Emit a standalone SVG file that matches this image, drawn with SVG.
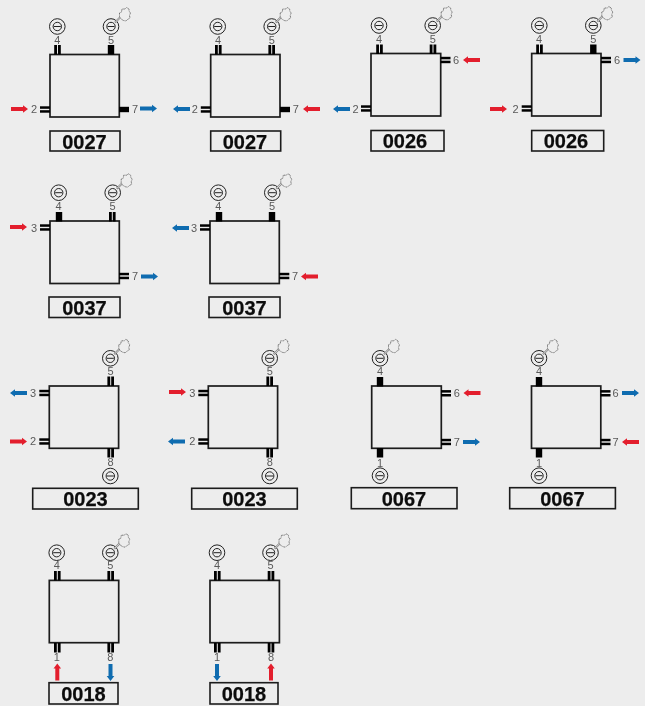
<svg xmlns="http://www.w3.org/2000/svg" width="645" height="706" viewBox="0 0 645 706">
<style>
.box{fill:none;stroke:#1c1c1c;stroke-width:1.7}
.lab{fill:none;stroke:#1c1c1c;stroke-width:1.6}
.t{font-family:"Liberation Sans",Arial,sans-serif;font-size:20px;font-weight:bold;fill:#0c0c0c;stroke:#0c0c0c;stroke-width:.25;text-anchor:middle;filter:url(#gray)}
.n{font-family:"Liberation Sans",Arial,sans-serif;font-size:11px;fill:#5a5a5a;text-anchor:middle;transform:translateY(-.5px);filter:url(#gray)}
.red{fill:#e31e2d}.blue{fill:#0f6cb0}
</style>
<defs>
<filter id="gray" x="-20%" y="-20%" width="140%" height="140%"><feOffset dx="0" dy="0"/></filter>
<g id="valve"><circle r="7.8" fill="none" stroke="#222" stroke-width="1"/><circle r="4.2" fill="none" stroke="#222" stroke-width="1"/><line x1="-3.500" x2="3.500" stroke="#222" stroke-width="1"/></g>
<g id="vk"><use href="#valve"/><line x1="4" y1="-4" x2="10.500" y2="-10.500" stroke="#8a8a8a" stroke-width="2"/><line x1="4.500" y1="-4.500" x2="10.500" y2="-10.500" stroke="#ededed" stroke-width=".7"/><path d="M8.500-13.500l2-1 .5-3 3 0 1.500-1.500 2.500 1.500 0 2 1.500 2-1 2.500 .5 2.500-2.500 1.500-1.500 1.500-2.500-.5-2.500-1.500-1.500-2.500z" fill="#ededed" stroke="#666" stroke-width=".9" stroke-dasharray="1 .5"/></g>
<g id="dv"><rect x="-3.300" y="0" width="2.800" height="9.500" fill="#000"/><rect x="0.500" y="0" width="2.800" height="9.500" fill="#000"/></g>
<g id="sv"><rect x="-3.200" y="0" width="6.400" height="9.500" fill="#000"/></g>
<g id="dh"><rect x="0" y="-3.200" width="10" height="2.500" fill="#000"/><rect x="0" y="0.700" width="10" height="2.500" fill="#000"/></g>
<g id="sh"><rect x="0" y="-2.700" width="10" height="5.400" fill="#000"/></g>
<path id="ar" d="M0-2H12V-3.800L17 0 12 3.800V2H0z"/>
</defs>
<rect width="645" height="706" fill="#ededed"/>
<g id="connectors">
<use href="#ar" class="red" x="11" y="109"/><use href="#ar" class="blue" x="140" y="108.500"/>
<use href="#ar" class="blue" transform="translate(190 109) rotate(180)"/><use href="#ar" class="red" transform="translate(320 109) rotate(180)"/>
<use href="#ar" class="blue" transform="translate(350 109) rotate(180)"/><use href="#ar" class="red" transform="translate(480 60) rotate(180)"/>
<use href="#ar" class="red" x="490" y="109"/><use href="#ar" class="blue" x="623.500" y="60"/>
<use href="#ar" class="red" x="10" y="227"/><use href="#ar" class="blue" x="141" y="276.500"/>
<use href="#ar" class="blue" transform="translate(189 228) rotate(180)"/><use href="#ar" class="red" transform="translate(318 276.500) rotate(180)"/>
<use href="#ar" class="blue" transform="translate(27 393) rotate(180)"/><use href="#ar" class="red" x="10" y="441.500"/>
<use href="#ar" class="red" x="169" y="392"/><use href="#ar" class="blue" transform="translate(185 441.500) rotate(180)"/>
<use href="#ar" class="red" transform="translate(480.500 393) rotate(180)"/><use href="#ar" class="blue" x="463" y="442"/>
<use href="#ar" class="blue" x="622" y="393"/><use href="#ar" class="red" transform="translate(639 442) rotate(180)"/>
<use href="#ar" class="red" transform="translate(57.300 680.500) rotate(-90)"/><use href="#ar" class="blue" transform="translate(110.500 664) rotate(90)"/>
<use href="#ar" class="blue" transform="translate(217 664) rotate(90)"/><use href="#ar" class="red" transform="translate(271 680.500) rotate(-90)"/>
</g>
<g id="n1"><rect class="box" x="50" y="54.500" width="69.300" height="62.500"/><use href="#dv" x="57.500" y="45"/><use href="#sv" x="111" y="45"/><use href="#dh" x="40" y="109.500"/><use href="#sh" x="119" y="109.500"/><use href="#valve" x="57.300" y="26.500"/><use href="#vk" x="111" y="26.500"/><text class="n" x="57.300" y="44">4</text><text class="n" x="111" y="44">5</text><text class="n" x="34" y="113">2</text><text class="n" x="135" y="113">7</text><rect class="lab" x="50" y="131" width="70" height="20"/><text class="t" x="84.500" y="148.500">0027</text></g>
<g id="n2"><rect class="box" x="210.700" y="54.500" width="69.300" height="62.500"/><use href="#dv" x="218.300" y="45"/><use href="#dv" x="271.700" y="45"/><use href="#dh" x="200.800" y="109.500"/><use href="#sh" x="280" y="109.500"/><use href="#valve" x="217.700" y="26.500"/><use href="#vk" x="271.700" y="26.500"/><text class="n" x="218" y="44">4</text><text class="n" x="271.700" y="44">5</text><text class="n" x="194.700" y="113">2</text><text class="n" x="295.700" y="113">7</text><rect class="lab" x="210.700" y="131" width="70" height="20"/><text class="t" x="245" y="148.500">0027</text></g>
<g id="n3"><rect class="box" x="371" y="53.500" width="69.700" height="62.500"/><use href="#dv" x="379.500" y="44.500"/><use href="#dv" x="433" y="44.500"/><use href="#dh" x="361" y="108.500"/><use href="#dh" x="440.500" y="60"/><use href="#valve" x="379" y="25.500"/><use href="#vk" x="432.700" y="25.500"/><text class="n" x="379" y="43.500">4</text><text class="n" x="432.700" y="43.500">5</text><text class="n" x="355.500" y="113">2</text><text class="n" x="456" y="64">6</text><rect class="lab" x="371" y="130.500" width="73" height="20.500"/><text class="t" x="405" y="148">0026</text></g>
<g id="n4"><rect class="box" x="531.700" y="53.500" width="69.300" height="62.500"/><use href="#dv" x="539.500" y="44.500"/><use href="#sv" x="593.300" y="44.500"/><use href="#dh" x="521.700" y="108.500"/><use href="#dh" x="601" y="60"/><use href="#valve" x="539.300" y="25.500"/><use href="#vk" x="593.300" y="25.500"/><text class="n" x="539" y="43.500">4</text><text class="n" x="593.300" y="43.500">5</text><text class="n" x="515.500" y="113">2</text><text class="n" x="617" y="64">6</text><rect class="lab" x="531.700" y="130.500" width="72" height="20.500"/><text class="t" x="566" y="148">0026</text></g>
<g id="n5"><rect class="box" x="50" y="221" width="69.300" height="62.500"/><use href="#sv" x="59" y="212"/><use href="#dv" x="112.300" y="212"/><use href="#dh" x="40" y="227.500"/><use href="#dh" x="119" y="276"/><use href="#valve" x="58.700" y="192.700"/><use href="#vk" x="112.700" y="192.700"/><text class="n" x="58.500" y="210.500">4</text><text class="n" x="112.500" y="210.500">5</text><text class="n" x="34" y="232">3</text><text class="n" x="135" y="280">7</text><rect class="lab" x="49" y="297" width="71" height="20.500"/><text class="t" x="84.500" y="315">0037</text></g>
<g id="n6"><rect class="box" x="210" y="221" width="69.300" height="62.500"/><use href="#sv" x="219" y="212"/><use href="#sv" x="272" y="212"/><use href="#dh" x="200" y="227.500"/><use href="#dh" x="279.300" y="276"/><use href="#valve" x="218.300" y="192.700"/><use href="#vk" x="272.300" y="192.700"/><text class="n" x="218.300" y="210.500">4</text><text class="n" x="272" y="210.500">5</text><text class="n" x="194" y="232">3</text><text class="n" x="295" y="280">7</text><rect class="lab" x="209" y="297" width="71" height="20.500"/><text class="t" x="244.500" y="315">0037</text></g>
<g id="n7"><rect class="box" x="49.300" y="386" width="69.300" height="62.300"/><use href="#dv" x="110.700" y="376.500"/><use href="#dv" x="110.700" y="448"/><use href="#dh" x="39.300" y="393"/><use href="#dh" x="39.300" y="441.500"/><use href="#vk" x="110.300" y="358.300"/><use href="#valve" x="110.300" y="476"/><text class="n" x="110.500" y="375.500">5</text><text class="n" x="110.500" y="466.500">8</text><text class="n" x="33" y="397">3</text><text class="n" x="33" y="445.500">2</text><rect class="lab" x="32.700" y="488.300" width="105.600" height="20.700"/><text class="t" x="85.500" y="505.500">0023</text></g>
<g id="n8"><rect class="box" x="208.300" y="386" width="69.300" height="62.300"/><use href="#dv" x="269.700" y="376.500"/><use href="#dv" x="269.700" y="448"/><use href="#dh" x="198.300" y="393"/><use href="#dh" x="198.300" y="441.500"/><use href="#vk" x="269.700" y="358.300"/><use href="#valve" x="269.700" y="476"/><text class="n" x="269.700" y="375.500">5</text><text class="n" x="269.700" y="466.500">8</text><text class="n" x="192.300" y="397">3</text><text class="n" x="192.300" y="445.500">2</text><rect class="lab" x="191.700" y="488.300" width="105.600" height="20.700"/><text class="t" x="244.500" y="505.500">0023</text></g>
<g id="n9"><rect class="box" x="371.700" y="386" width="69.600" height="62.300"/><use href="#sv" x="380" y="377"/><use href="#sv" x="380" y="448"/><use href="#dh" x="441" y="393.300"/><use href="#dh" x="441" y="442"/><use href="#vk" x="380" y="358.300"/><use href="#valve" x="380" y="475.700"/><text class="n" x="380" y="375.500">4</text><text class="n" x="380" y="467">1</text><text class="n" x="456.700" y="397.500">6</text><text class="n" x="456.700" y="446">7</text><rect class="lab" x="351.300" y="487.700" width="105.700" height="21"/><text class="t" x="404" y="505.500">0067</text></g>
<g id="n10"><rect class="box" x="531.500" y="386" width="69.300" height="62.300"/><use href="#sv" x="539" y="377"/><use href="#sv" x="539" y="448"/><use href="#dh" x="600.500" y="393.300"/><use href="#dh" x="600.500" y="442"/><use href="#vk" x="539" y="358.300"/><use href="#valve" x="539" y="475.700"/><text class="n" x="539" y="375.500">4</text><text class="n" x="539" y="467">1</text><text class="n" x="615.500" y="397.500">6</text><text class="n" x="615.500" y="446">7</text><rect class="lab" x="509.700" y="487.700" width="105.700" height="21"/><text class="t" x="562.500" y="505.500">0067</text></g>
<g id="n11"><rect class="box" x="49.300" y="580.400" width="69.400" height="62.300"/><use href="#dv" x="57.300" y="571"/><use href="#dv" x="110.700" y="571"/><use href="#dv" x="57.300" y="643"/><use href="#dv" x="110.700" y="643"/><use href="#valve" x="56.700" y="552.700"/><use href="#vk" x="110.300" y="552.700"/><text class="n" x="56.700" y="569.500">4</text><text class="n" x="110.300" y="569.500">5</text><text class="n" x="56.700" y="661.700">1</text><text class="n" x="110.300" y="661.700">8</text><rect class="lab" x="49" y="682.700" width="69" height="21.300"/><text class="t" x="83.500" y="700.500">0018</text></g>
<g id="n12"><rect class="box" x="210" y="580.400" width="69.400" height="62.300"/><use href="#dv" x="217.300" y="571"/><use href="#dv" x="271" y="571"/><use href="#dv" x="217.300" y="643"/><use href="#dv" x="271" y="643"/><use href="#valve" x="217" y="552.700"/><use href="#vk" x="270.500" y="552.700"/><text class="n" x="217" y="569.500">4</text><text class="n" x="270.500" y="569.500">5</text><text class="n" x="217" y="661.700">1</text><text class="n" x="271" y="661.700">8</text><rect class="lab" x="210" y="682.700" width="68" height="21.300"/><text class="t" x="244" y="700.500">0018</text></g>
</svg>
